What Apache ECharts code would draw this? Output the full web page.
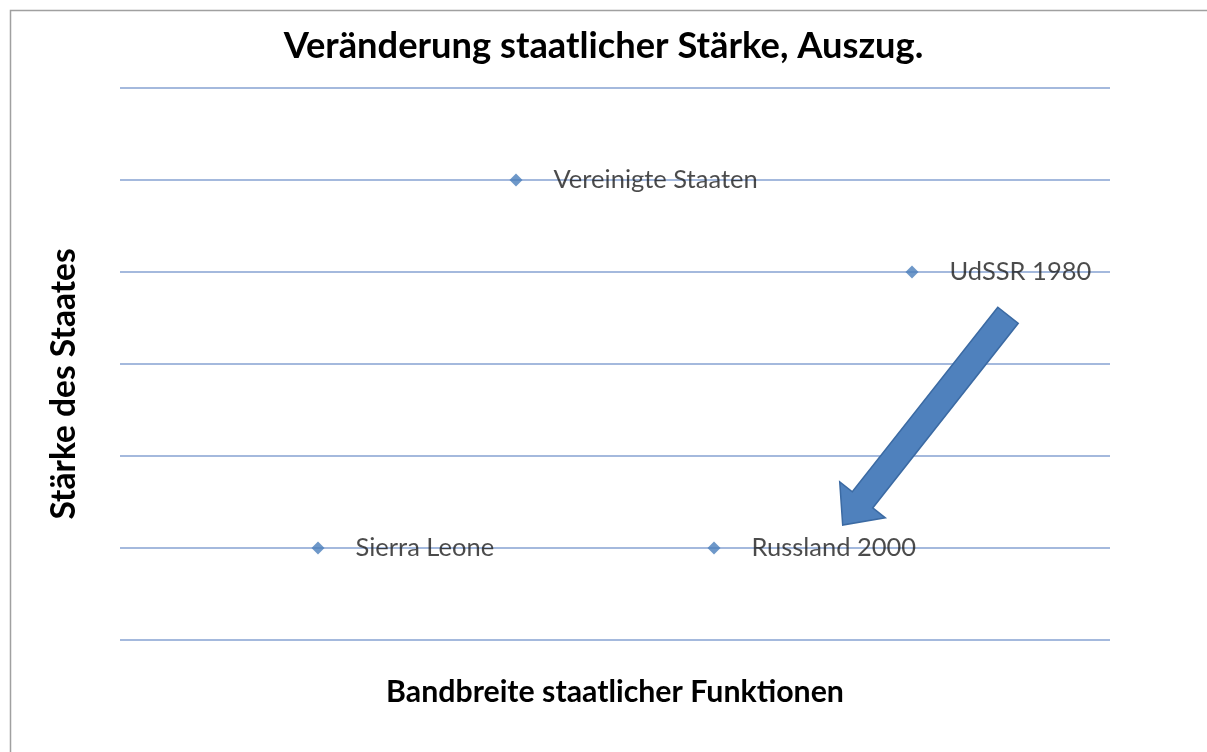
<!DOCTYPE html>
<html>
<head>
<meta charset="utf-8">
<script src="https://cdn.jsdelivr.net/npm/echarts@6/dist/echarts.min.js"></script>
<style>
html, body { margin: 0; padding: 0; background: #fff; }
#main { width: 1207px; height: 752px; }
</style>
</head>
<body>
<div id="main"></div>
<script>
// Staaten und Position (Bandbreite / Stärke)
var staaten = ['Sierra Leone', 'Vereinigte Staaten', 'Russland 2000', 'UdSSR 1980'];
var bandbreite = [1, 2, 3, 4];
var staerke = [1, 5, 1, 4];
// Pfeil von UdSSR Richtung Russland (Anfang, Spitze)
var pfeilStart = [4.485, 3.53];
var pfeilEnde = [3.65, 1.25];

var punkte = [];
for (var i = 0; i < staaten.length; i++) {
    punkte.push({ name: staaten[i], value: [bandbreite[i], staerke[i]] });
}

var font = 'Lato, "Open Sans", sans-serif';

var chart = echarts.init(document.getElementById('main'));
var option = {
    backgroundColor: '#fff',
    animation: false,
    title: {
        text: 'Veränderung staatlicher Stärke, Auszug.',
        left: 'center',
        top: 23,
        textStyle: { fontFamily: font, fontSize: 36.3, fontWeight: 'bold', color: '#000' }
    },
    graphic: [{
        type: 'rect',
        left: 8, top: 8,
        shape: { width: 1400, height: 900 },
        style: { fill: 'none', stroke: '#a0a0a0', lineWidth: 1.5 },
        silent: true
    }],
    grid: { left: 120, right: 97, top: 88, bottom: 112 },
    xAxis: {
        type: 'value',
        min: 0, max: 5, interval: 1,
        name: 'Bandbreite staatlicher Funktionen',
        nameLocation: 'middle',
        nameGap: 37,
        nameTextStyle: { fontFamily: font, fontSize: 30.3, fontWeight: 'bold', color: '#000' },
        axisLine: { show: false },
        axisTick: { show: false },
        axisLabel: { show: false },
        splitLine: { show: false }
    },
    yAxis: {
        type: 'value',
        min: 0, max: 6, interval: 1,
        name: 'Stärke des Staates',
        nameLocation: 'middle',
        nameGap: 39,
        nameTextStyle: { fontFamily: font, fontSize: 33.5, fontWeight: 'bold', color: '#000', padding: [0, 40, 0, 0] },
        axisLine: { show: false },
        axisTick: { show: false },
        axisLabel: { show: false },
        splitLine: { show: true, lineStyle: { color: '#86a2d2', width: 1.5 } }
    },
    series: [{
        type: 'scatter',
        symbol: 'diamond',
        symbolSize: 13,
        itemStyle: { color: '#4a7ebb' },
        label: {
            show: true,
            position: 'right',
            distance: 31,
            formatter: '{b}',
            fontFamily: font,
            fontSize: 25.5,
            color: '#1e1e1e'
        },
        data: punkte
    }, {
        type: 'custom',
        silent: true,
        data: [pfeilStart.concat(pfeilEnde)],
        renderItem: function (params, api) {
            var a = api.coord([api.value(0), api.value(1)]);
            var b = api.coord([api.value(2), api.value(3)]);
            var dx = b[0] - a[0], dy = b[1] - a[1];
            var len = Math.sqrt(dx * dx + dy * dy);
            var ux = dx / len, uy = dy / len;
            var nx = -uy, ny = ux;
            var sw = 13, hw = 29, hl = 32;
            var bx = b[0] - ux * hl, by = b[1] - uy * hl;
            var pts = [
                [a[0] + nx * sw, a[1] + ny * sw],
                [bx + nx * sw, by + ny * sw],
                [bx + nx * hw, by + ny * hw],
                [b[0], b[1]],
                [bx - nx * hw, by - ny * hw],
                [bx - nx * sw, by - ny * sw],
                [a[0] - nx * sw, a[1] - ny * sw]
            ];
            return {
                type: 'polygon',
                shape: { points: pts },
                style: { fill: '#4f81bd', stroke: '#3b6aa3', lineWidth: 1.5 }
            };
        }
    }]
};
chart.setOption(option);
</script>
</body>
</html>
